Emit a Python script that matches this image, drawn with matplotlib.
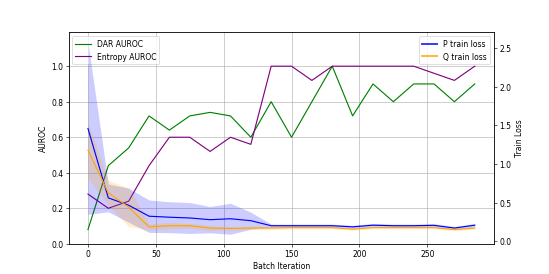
import matplotlib
matplotlib.use("Agg")
import matplotlib.pyplot as plt
import numpy as np

iterations = list(range(0, 300, 15))
dar_auroc = [0.08, 0.44, 0.54, 0.72, 0.64, 0.72, 0.74, 0.72, 0.60, 0.80,
             0.60, 0.80, 1.00, 0.72, 0.90, 0.80, 0.90, 0.90, 0.80, 0.90]
entropy_auroc = [0.28, 0.20, 0.24, 0.44, 0.60, 0.60, 0.52, 0.60, 0.56, 1.00,
                 1.00, 0.92, 1.00, 1.00, 1.00, 1.00, 1.00, 0.96, 0.92, 1.00]
p_loss = [1.457, 0.56, 0.465, 0.323, 0.31, 0.30, 0.278, 0.29, 0.265, 0.20,
          0.20, 0.20, 0.20, 0.185, 0.207, 0.20, 0.20, 0.205, 0.17, 0.207]
p_std = [1.11, 0.18, 0.22, 0.21, 0.20, 0.20, 0.17, 0.20, 0.11, 0.02,
         0.02, 0.02, 0.02, 0.02, 0.02, 0.02, 0.02, 0.02, 0.02, 0.02]
q_loss = [1.177, 0.625, 0.44, 0.185, 0.20, 0.20, 0.17, 0.165, 0.17, 0.17,
          0.175, 0.175, 0.175, 0.155, 0.175, 0.175, 0.175, 0.175, 0.15, 0.17]
q_std = [0.36, 0.16, 0.25, 0.04, 0.04, 0.03, 0.03, 0.02, 0.02, 0.02,
         0.015, 0.015, 0.015, 0.015, 0.015, 0.015, 0.015, 0.015, 0.015, 0.015]

x = np.array(iterations)
p = np.array(p_loss); ps = np.array(p_std)
q = np.array(q_loss); qs = np.array(q_std)

fig, ax = plt.subplots(figsize=(10, 5), dpi=54.9)
ax.plot(x, dar_auroc, color="green", label="DAR AUROC")
ax.plot(x, entropy_auroc, color="purple", label="Entropy AUROC")
ax.set_xlabel("Batch Iteration")
ax.set_ylabel("AUROC")
ax.set_ylim(0, 1.19)
ax.grid(True)
ax.legend(loc="upper left")

ax2 = ax.twinx()
ax2.plot(x, p, color="blue", label="P train loss")
ax2.fill_between(x, p - ps, p + ps, color="blue", alpha=0.2, lw=0)
ax2.plot(x, q, color="orange", label="Q train loss")
ax2.fill_between(x, q - qs, q + qs, color="orange", alpha=0.2, lw=0)
ax2.set_ylabel("Train Loss")
ax2.set_ylim(-0.034, 2.70)
leg = ax2.legend(loc="upper right")
for h in leg.get_lines():
    h.set_linewidth(2.5)
    h.set_alpha(0.8)

fig.savefig("out.png", dpi=54.9)
